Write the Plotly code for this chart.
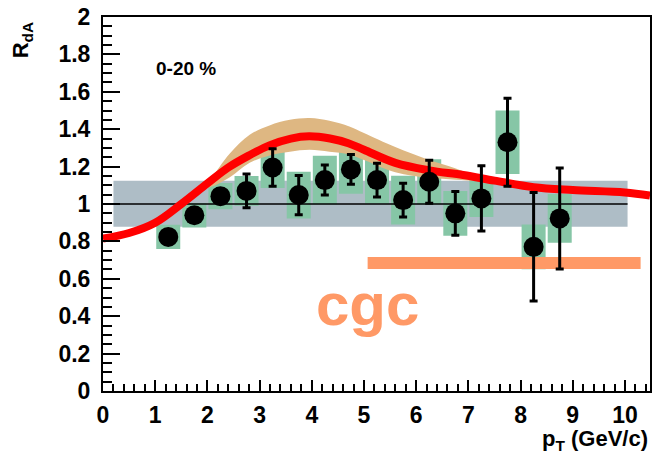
import plotly.graph_objects as go

# Measured nuclear modification factor, 0-20 % centrality
pt = [1.25, 1.75, 2.25, 2.75, 3.25, 3.75, 4.25, 4.75, 5.25, 5.75, 6.25, 6.75, 7.25, 7.75, 8.25, 8.75]
rda = [0.824, 0.94, 1.042, 1.07, 1.195, 1.048, 1.128, 1.185, 1.128, 1.021, 1.119, 0.95, 1.03, 1.33, 0.771, 0.923]
stat_err = [0.03, 0.03, 0.04, 0.09, 0.10, 0.105, 0.08, 0.08, 0.09, 0.09, 0.115, 0.117, 0.175, 0.235, 0.29, 0.27]
sys_err = [0.065, 0.065, 0.07, 0.08, 0.11, 0.125, 0.13, 0.13, 0.125, 0.13, 0.12, 0.12, 0.10, 0.17, 0.12, 0.13]
sys_halfwidth = 0.23

# Normalisation uncertainty band around unity
norm_x = [0.2, 10.05]
norm_lo = 0.878
norm_hi = 1.124

# Model curve (central value)
model_x = [0.0, 0.5, 1.0, 1.5, 2.0, 2.4, 2.8, 3.2, 3.6, 3.95, 4.35, 4.7, 5.0, 5.6, 6.25, 6.9, 7.5, 8.25, 9.0, 10.0, 10.48]
model_y = [0.815, 0.845, 0.9, 1.0, 1.11, 1.195, 1.26, 1.315, 1.35, 1.362, 1.35, 1.325, 1.29, 1.22, 1.18, 1.155, 1.125, 1.09, 1.075, 1.062, 1.045]

# Model uncertainty band
band_x = [1.9, 2.05, 2.43, 2.81, 3.19, 3.58, 3.96, 4.34, 4.72, 5.0, 5.6, 6.25, 6.76, 7.3]
band_hi = [1.09, 1.13, 1.27, 1.37, 1.42, 1.45, 1.46, 1.445, 1.415, 1.38, 1.305, 1.235, 1.19, 1.13]
band_lo = [1.09, 1.09, 1.143, 1.22, 1.26, 1.28, 1.29, 1.28, 1.265, 1.235, 1.17, 1.14, 1.13, 1.12]

# CGC marker line
cgc_x = [5.07, 10.3]
cgc_y = [0.685, 0.685]

y_tickvals = [0, 0.2, 0.4, 0.6, 0.8, 1.0, 1.2, 1.4, 1.6, 1.8, 2.0]
y_ticktext = ["0", "0.2", "0.4", "0.6", "0.8", "1", "1.2", "1.4", "1.6", "1.8", "2"]
x_tickvals = [0, 1, 2, 3, 4, 5, 6, 7, 8, 9, 10]
x_ticktext = ["0", "1", "2", "3", "4", "5", "6", "7", "8", "9", "10"]

GREY = "#AEBDC6"
GREEN = "#86C6A6"
TAN = "#DEB782"
ORANGE = "#FF9966"
FONT = "Liberation Sans"

fig = go.Figure()

# grey normalisation band
fig.add_trace(go.Scatter(
    x=[norm_x[0], norm_x[1], norm_x[1], norm_x[0], norm_x[0]],
    y=[norm_lo, norm_lo, norm_hi, norm_hi, norm_lo],
    fill="toself", fillcolor=GREY, mode="lines", line=dict(width=0),
    hoverinfo="skip", showlegend=False))

# systematic boxes
bx, by = [], []
for x, y, s in zip(pt, rda, sys_err):
    bx += [x - sys_halfwidth, x + sys_halfwidth, x + sys_halfwidth, x - sys_halfwidth, x - sys_halfwidth, None]
    by += [y - s, y - s, y + s, y + s, y - s, None]
fig.add_trace(go.Scatter(x=bx, y=by, fill="toself", fillcolor=GREEN, mode="lines",
                         line=dict(width=0), hoverinfo="skip", showlegend=False))

# unity line
fig.add_trace(go.Scatter(x=norm_x, y=[1, 1], mode="lines",
                         line=dict(color="black", width=1.5), showlegend=False))

# model band
fig.add_trace(go.Scatter(x=band_x, y=band_lo, mode="lines", line=dict(width=0, shape="spline"),
                         showlegend=False, hoverinfo="skip"))
fig.add_trace(go.Scatter(x=band_x, y=band_hi, mode="lines", line=dict(width=0, shape="spline"),
                         fill="tonexty", fillcolor=TAN, showlegend=False, hoverinfo="skip"))

# model curve
fig.add_trace(go.Scatter(x=model_x, y=model_y, mode="lines",
                         line=dict(color="#FF0000", width=8, shape="spline"), showlegend=False))

# cgc line
fig.add_trace(go.Scatter(x=cgc_x, y=cgc_y, mode="lines",
                         line=dict(color=ORANGE, width=12), showlegend=False))

# data points
fig.add_trace(go.Scatter(
    x=pt, y=rda, mode="markers",
    marker=dict(color="black", size=20, symbol="circle"),
    error_y=dict(type="data", array=stat_err, color="black", thickness=3, width=4),
    showlegend=False))

axis_font = dict(family=FONT, size=23, color="black", weight="bold")

fig.update_xaxes(
    range=[0, 10.48], tickvals=x_tickvals, ticktext=x_ticktext,
    ticks="inside", ticklen=11, tickwidth=2, tickcolor="black",
    minor=dict(dtick=0.2, ticks="inside", ticklen=7, tickwidth=2, tickcolor="black", showgrid=False),
    showline=True, linecolor="black", linewidth=2, mirror=True,
    showgrid=False, zeroline=False, tickfont=axis_font, ticklabelstandoff=2)
fig.update_yaxes(
    range=[0, 2], tickvals=y_tickvals, ticktext=y_ticktext,
    ticks="inside", ticklen=17, tickwidth=2, tickcolor="black",
    minor=dict(dtick=0.05, ticks="inside", ticklen=9, tickwidth=2, tickcolor="black", showgrid=False),
    showline=True, linecolor="black", linewidth=2, mirror=True,
    showgrid=False, zeroline=False, tickfont=axis_font, ticklabelstandoff=6)

fig.update_layout(
    width=654, height=456,
    margin=dict(l=103, r=2, t=17, b=65),
    paper_bgcolor="white", plot_bgcolor="white",
    annotations=[
        dict(text="R<sub>dA</sub>", xref="paper", yref="paper", x=-0.1475, y=0.9385,
             textangle=-90, showarrow=False, xanchor="center", yanchor="middle",
             font=dict(family=FONT, size=22, color="black", weight="bold")),
        dict(text="p<sub>T</sub> (GeV/c)", xref="paper", yref="paper", x=1.0, y=-0.131,
             showarrow=False, xanchor="right", yanchor="middle",
             font=dict(family=FONT, size=22, color="black", weight="bold")),
        dict(text="0-20 %", xref="x", yref="y", x=0.97, y=1.727,
             showarrow=False, xanchor="left", yanchor="middle",
             font=dict(family=FONT, size=19, color="black", weight="bold")),
        dict(text="cgc", xref="x", yref="y", x=5.06, y=0.46,
             showarrow=False, xanchor="center", yanchor="middle",
             font=dict(family=FONT, size=60, color=ORANGE, weight="bold")),
    ],
)

fig.write_html("out.html")
